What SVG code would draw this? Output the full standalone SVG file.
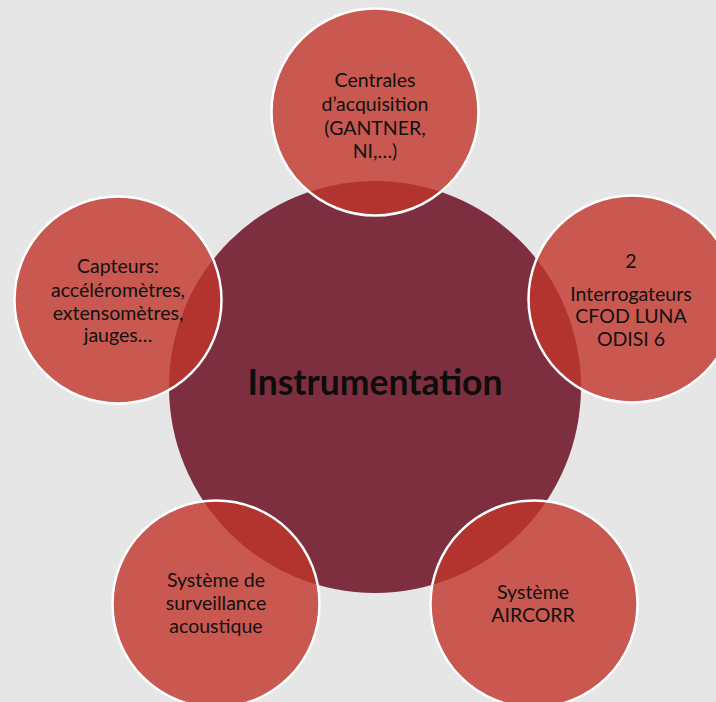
<svg xmlns="http://www.w3.org/2000/svg" width="716" height="702" viewBox="0 0 716 702">
<style>
.bg{fill:#e7e6e6}
.hub{fill:#7d2e3f}
.sat{fill:#c0352a;fill-opacity:0.8;stroke:#ffffff;stroke-width:2.5}
.lbl{font-family:Lato,"Liberation Sans",sans-serif;font-size:19.5px;fill:#111111;text-anchor:middle}
.title{font-family:Lato,"Liberation Sans",sans-serif;font-size:35.5px;font-weight:bold;fill:#0d0d0d;text-anchor:middle}
</style>
<rect class="bg" x="0" y="0" width="716" height="702"/>
<g id="connectors"></g>
<g id="node-instrumentation">
<circle class="hub" cx="375" cy="387" r="206"/>
<text class="title" x="375" y="395">Instrumentation</text>
</g>
<g id="node-centrales">
<circle class="sat" cx="375" cy="112" r="103.5"/>
<text class="lbl" x="375" y="87">Centrales</text>
<text class="lbl" x="375" y="111">d’acquisition</text>
<text class="lbl" x="375" y="135">(GANTNER,</text>
<text class="lbl" x="375" y="158">NI,…)</text>
</g>
<g id="node-interrogateurs">
<circle class="sat" cx="632" cy="299" r="103.5"/>
<text class="lbl" x="631" y="268">2</text>
<text class="lbl" x="631" y="301">Interrogateurs</text>
<text class="lbl" x="631" y="323">CFOD LUNA</text>
<text class="lbl" x="631" y="346">ODISI 6</text>
</g>
<g id="node-aircorr">
<circle class="sat" cx="534" cy="604" r="103.5"/>
<text class="lbl" x="533" y="599">Système</text>
<text class="lbl" x="533" y="622">AIRCORR</text>
</g>
<g id="node-acoustique">
<circle class="sat" cx="216" cy="604" r="103.5"/>
<text class="lbl" x="216" y="587">Système de</text>
<text class="lbl" x="216" y="610">surveillance</text>
<text class="lbl" x="216" y="633">acoustique</text>
</g>
<g id="node-capteurs">
<circle class="sat" cx="118" cy="300" r="103.5"/>
<text class="lbl" x="118" y="273">Capteurs:</text>
<text class="lbl" x="118" y="297">accéléromètres,</text>
<text class="lbl" x="118" y="320">extensomètres,</text>
<text class="lbl" x="118" y="342">jauges…</text>
</g>
</svg>
